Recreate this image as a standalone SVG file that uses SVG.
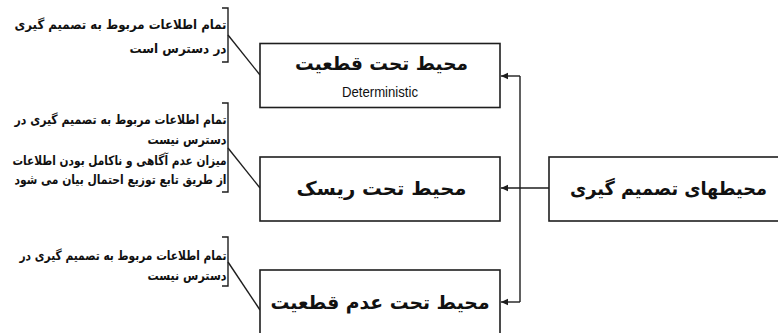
<svg xmlns="http://www.w3.org/2000/svg" width="778" height="333" viewBox="0 0 778 333">
  <style>
    .box { fill: #ffffff; stroke: #1e1e1e; stroke-width: 1.6; }
    .line { fill: none; stroke: #1e1e1e; stroke-width: 1.4; }
    .title { font-family: "DejaVu Sans", sans-serif; font-weight: bold; font-size: 19px; fill: #111; text-anchor: middle; }
    .latin { font-family: "Liberation Sans", Arial, sans-serif; font-size: 14.5px; fill: #111; text-anchor: middle; }
    .note { font-family: "DejaVu Sans", sans-serif; font-weight: bold; font-size: 13px; fill: #111; text-anchor: end; }
  </style>
  <defs>
    <marker id="arrow" markerUnits="userSpaceOnUse" markerWidth="8" markerHeight="8" refX="7" refY="4" orient="auto">
      <path d="M0,0.8 L7,4 L0,7.2 z" fill="#1e1e1e"/>
    </marker>
  </defs>
  <rect width="778" height="333" fill="#ffffff"/>

  <!-- connectors -->
  <g id="connectors">
    <path class="line" d="M549,188 H501" marker-end="url(#arrow)"/>
    <path class="line" d="M520,76 V302"/>
    <path class="line" d="M520,76 H501" marker-end="url(#arrow)"/>
    <path class="line" d="M520,302 H501" marker-end="url(#arrow)"/>
    <path class="line" d="M228,35 L260,75"/>
    <path class="line" d="M228,148 L260,188"/>
    <path class="line" d="M228,262 L260,310"/>
  </g>

  <!-- root node -->
  <g id="decision-environments">
    <rect class="box" x="549" y="157" width="240" height="64"/>
    <text class="title" x="668.5" y="195" textLength="197" lengthAdjust="spacingAndGlyphs">محیطهای تصمیم گیری</text>
  </g>

  <!-- branch nodes -->
  <g id="certainty">
    <rect class="box" x="260" y="43.5" width="240" height="64"/>
    <text class="title" x="381.5" y="70" textLength="173" lengthAdjust="spacingAndGlyphs">محیط تحت قطعیت</text>
    <text class="latin" x="380" y="97" textLength="76" lengthAdjust="spacingAndGlyphs">Deterministic</text>
  </g>
  <g id="risk">
    <rect class="box" x="260" y="157" width="240" height="64"/>
    <text class="title" x="381.5" y="195" textLength="170" lengthAdjust="spacingAndGlyphs">محیط تحت ریسک</text>
  </g>
  <g id="uncertainty">
    <rect class="box" x="260" y="270" width="240" height="70"/>
    <text class="title" x="380" y="309" textLength="219" lengthAdjust="spacingAndGlyphs">محیط تحت عدم قطعیت</text>
  </g>

  <!-- bracketed notes -->
  <g id="note-certainty">
    <path class="line" d="M222,8 H228 V62 H222"/>
    <text class="note" x="226.5" y="29" textLength="212" lengthAdjust="spacingAndGlyphs">تمام اطلاعات مربوط به تصمیم گیری</text>
    <text class="note" x="226.5" y="53" textLength="97" lengthAdjust="spacingAndGlyphs">در دسترس است</text>
  </g>
  <g id="note-risk">
    <path class="line" d="M222,103 H228 V192 H222"/>
    <text class="note" x="226.5" y="124" textLength="212" lengthAdjust="spacingAndGlyphs">تمام اطلاعات مربوط به تصمیم گیری در</text>
    <text class="note" x="226.5" y="144" textLength="79" lengthAdjust="spacingAndGlyphs">دسترس نیست</text>
    <text class="note" x="226.5" y="165" textLength="214" lengthAdjust="spacingAndGlyphs">میزان عدم آگاهی و ناکامل بودن اطلاعات</text>
    <text class="note" x="226.5" y="184" textLength="212" lengthAdjust="spacingAndGlyphs">از طریق تابع توزیع احتمال بیان می شود</text>
  </g>
  <g id="note-uncertainty">
    <path class="line" d="M222,237 H228 V286 H222"/>
    <text class="note" x="226.5" y="260" textLength="207" lengthAdjust="spacingAndGlyphs">تمام اطلاعات مربوط به تصمیم گیری در</text>
    <text class="note" x="226.5" y="280" textLength="79" lengthAdjust="spacingAndGlyphs">دسترس نیست</text>
  </g>
</svg>
